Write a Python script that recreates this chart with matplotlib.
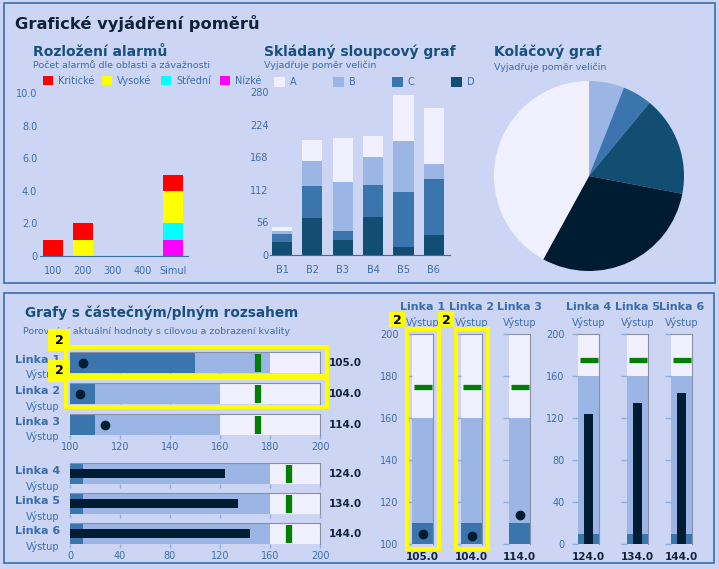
import numpy as np
import matplotlib
matplotlib.use("Agg")
import matplotlib.pyplot as plt
from matplotlib.patches import Rectangle

# ---- data ----
alarm_cats = ["100", "200", "300", "400", "Simul"]
alarm_levels = ["Kritické", "Vysoké", "Střední", "Nízké"]
alarm_krit = [1, 1, 0, 0, 1]
alarm_vys = [0, 1, 0, 0, 2]
alarm_stred = [0, 0, 0, 0, 1]
alarm_nizke = [0, 0, 0, 0, 1]
alarm_yticks = [0, 2, 4, 6, 8, 10]
alarm_ylabels = ["0", "2.0", "4.0", "6.0", "8.0", "10.0"]

stack_cats = ["B1", "B2", "B3", "B4", "B5", "B6"]
stack_names = ["A", "B", "C", "D"]
ser_a = [7, 36, 76, 36, 79, 97]
ser_b = [5, 43, 84, 47, 86, 26]
ser_c = [13, 55, 16, 56, 95, 96]
ser_d = [23, 63, 25, 65, 14, 34]
stack_yticks = [0, 56, 112, 168, 224, 280]

pie_vals = [6, 5, 17, 30, 42]

lines = ["Linka 1", "Linka 2", "Linka 3", "Linka 4", "Linka 5", "Linka 6"]
line_values = [105, 104, 114, 124, 134, 144]
line_targets = [175, 175, 175, 175, 175, 175]
scale_min = [100, 100, 100, 0, 0, 0]
scale_max = [200, 200, 200, 200, 200, 200]
h_ranges = [[150, 180], [110, 160], [110, 160], [10, 160], [10, 160], [10, 160]]
v_ranges = [[110, 160], [110, 160], [110, 160], [10, 160], [10, 160], [10, 160]]
highlighted = [True, True, False, False, False, False]
badge_text = "2"

# ---- style ----
W, H = 719, 569
BG = "#CDD5F5"
BORDER = "#3A6EA8"
NAVY = "#0F2238"
HEAD = "#17507C"
SOFT = "#3A6EA8"
C_A, C_B, C_C, C_D, C_E = "#F0F0FF", "#9BB6E4", "#3A75AE", "#124D72", "#001C33"
GREEN = "#008000"
GREY = "#8890A4"
TICK = "#8FAEE0"
YEL = "#FFFF00"
plt.rcParams["font.family"] = ["DejaVu Sans"]

fig = plt.figure(figsize=(W / 100, H / 100), dpi=100, facecolor=BG)


def add_ax(x0, y0, x1, y1):
    ax = fig.add_axes([x0 / W, 1 - y1 / H, (x1 - x0) / W, (y1 - y0) / H])
    ax.set_facecolor("none")
    return ax


def ftext(x, y, s, **kw):
    kw.setdefault("va", "center")
    return fig.text(x / W, 1 - y / H, s, **kw)


def frect(x0, y0, x1, y1, **kw):
    r = Rectangle((x0 / W, 1 - y1 / H), (x1 - x0) / W, (y1 - y0) / H,
                  transform=fig.transFigure, **kw)
    fig.add_artist(r)
    return r


# panels
frect(4, 3, 715, 283, fill=False, ec=BORDER, lw=1.2)
frect(4, 293, 714, 563, fill=False, ec=BORDER, lw=1.2)
ftext(15, 24, "Grafické vyjádření poměrů", fontsize=11.7, weight="bold", color=NAVY)

# ---- alarm chart ----
ftext(33, 52, "Rozložení alarmů", fontsize=10, weight="bold", color=HEAD)
ftext(33, 65, "Počet alarmů dle oblasti a závažnosti", fontsize=6.8, color=SOFT)
alarm_cols = ["#FF0000", "#FFFF00", "#00FFFF", "#FF00FF"]
for lx, name, col in zip([43, 102, 161, 220], alarm_levels, alarm_cols):
    frect(lx, 76, lx + 10, 85, fc=col, ec="none")
    ftext(lx + 15, 81, name, fontsize=7, color=SOFT)

ax = add_ax(40, 93, 188, 256)
x = np.arange(len(alarm_cats))
bottom = np.zeros(len(x))
for vals, col in zip([alarm_nizke, alarm_stred, alarm_vys, alarm_krit], alarm_cols[::-1]):
    ax.bar(x, vals, bottom=bottom, width=0.667, color=col)
    bottom += np.array(vals)
ax.set_xlim(-0.433, 4.5)
ax.set_ylim(0, 10)
ax.set_xticks(x)
ax.set_xticklabels(alarm_cats)
ax.set_yticks(alarm_yticks)
ax.set_yticklabels(alarm_ylabels)
for s in ["top", "right", "left"]:
    ax.spines[s].set_visible(False)
ax.spines["bottom"].set_color(BORDER)
ax.tick_params(length=0, labelcolor=SOFT, labelsize=7)
ax.tick_params(axis="x", pad=7)
ax.tick_params(axis="y", pad=2)

# ---- stacked chart ----
ftext(264, 52, "Skládaný sloupcový graf", fontsize=10, weight="bold", color=HEAD)
ftext(264, 65, "Vyjadřuje poměr veličin", fontsize=6.8, color=SOFT)
stack_cols = [C_A, C_B, C_C, C_D]
for lx, name, col in zip([274, 333, 392, 451], stack_names, stack_cols):
    frect(lx, 77, lx + 11, 87, fc=col, ec="none")
    ftext(lx + 16, 82, name, fontsize=7, color=SOFT)

ax = add_ax(270, 92, 450, 255)
x = np.arange(len(stack_cats))
bottom = np.zeros(len(x))
for vals, col in zip([ser_d, ser_c, ser_b, ser_a], [C_D, C_C, C_B, C_A]):
    ax.bar(x, vals, bottom=bottom, width=0.66, color=col)
    bottom += np.array(vals)
ax.set_xlim(-0.395, 5.53)
ax.set_ylim(0, 280)
ax.set_xticks(x)
ax.set_xticklabels(stack_cats)
ax.set_yticks(stack_yticks)
for s in ["top", "right", "left"]:
    ax.spines[s].set_visible(False)
ax.spines["bottom"].set_color(BORDER)
ax.tick_params(length=0, labelcolor=SOFT, labelsize=7)
ax.tick_params(axis="x", pad=7)
ax.tick_params(axis="y", pad=1)

# ---- pie ----
ftext(494, 52, "Koláčový graf", fontsize=10, weight="bold", color=HEAD)
ftext(494, 67, "Vyjadřuje poměr veličin", fontsize=6.8, color=SOFT)
ax = add_ax(494, 81, 684, 271)
ax.pie(pie_vals, colors=[C_B, C_C, C_D, C_E, C_A], startangle=90,
       counterclock=False, radius=1, wedgeprops=dict(linewidth=0))
ax.set_xlim(-1, 1)
ax.set_ylim(-1, 1)
ax.set_aspect("equal")

# ---- bullet charts ----
ftext(25, 313, "Grafy s částečným/plným rozsahem", fontsize=9.8, weight="bold", color=HEAD)
ftext(23, 331, "Porovnání aktuální hodnoty s cílovou a zobrazení kvality", fontsize=6.8, color=SOFT)

h_rows = [352, 383, 414, 463, 493, 523]
for i, name in enumerate(lines):
    lo, hi = scale_min[i], scale_max[i]
    y0 = h_rows[i]
    ax = add_ax(70, y0, 320, y0 + 21)
    bounds = [lo] + h_ranges[i] + [hi]
    for k, col in enumerate([C_C, C_B, C_A]):
        ax.barh(0, bounds[k + 1] - bounds[k], left=bounds[k], height=1, color=col)
    if i < 3:
        ax.plot(line_values[i], 0, "o", ms=6, color=C_E)
    else:
        ax.barh(0, line_values[i] - lo, left=lo, height=0.4, color=C_E)
    ax.plot(line_targets[i], 0, marker="|", ms=13, mew=4.5, color=GREEN)
    ax.set_xlim(lo, hi)
    ax.set_ylim(-0.5, 0.5)
    ax.set_yticks([])
    ax.set_xticks(np.arange(lo, hi + 1, 20 if i < 3 else 40))
    for s in ["left", "bottom"]:
        ax.spines[s].set_visible(False)
    for s in ["top", "right"]:
        ax.spines[s].set_color(GREY)
    ax.tick_params(axis="x", length=3, width=1, color=TICK, labelcolor=SOFT,
                   labelsize=7, pad=2, labelbottom=(i in (2, 5)))
    ftext(60, y0 + 8, name, fontsize=8, weight="bold", color=SOFT, ha="right")
    ftext(60, y0 + 23, "Výstup", fontsize=7, color=SOFT, ha="right")
    ftext(329, y0 + 11, f"{line_values[i]:.1f}", fontsize=7.5, weight="bold", color=NAVY)

v_cols = [412, 461, 509, 578, 627, 671]
for j, name in enumerate(lines):
    lo, hi = scale_min[j], scale_max[j]
    x0 = v_cols[j]
    ax = add_ax(x0, 334, x0 + 21, 544)
    bounds = [lo] + v_ranges[j] + [hi]
    for k, col in enumerate([C_C, C_B, C_A]):
        ax.bar(0, bounds[k + 1] - bounds[k], bottom=bounds[k], width=1, color=col)
    if j < 3:
        ax.plot(0, line_values[j], "o", ms=6, color=C_E)
    else:
        ax.bar(0, line_values[j] - lo, bottom=lo, width=0.4, color=C_E)
    ax.plot(0, line_targets[j], marker="_", ms=13.5, mew=3.8, color=GREEN)
    ax.set_ylim(lo, hi)
    ax.set_xlim(-0.5, 0.5)
    ax.set_xticks([])
    ax.set_yticks(np.arange(lo, hi + 1, 20 if j < 3 else 40))
    for s in ["left", "bottom"]:
        ax.spines[s].set_visible(False)
    for s in ["top", "right"]:
        ax.spines[s].set_color(GREY)
    ax.tick_params(axis="y", length=4.3, width=1, color=TICK, labelcolor=SOFT,
                   labelsize=7, pad=5.5, labelleft=(j in (0, 3)))
    ftext(x0 + 10.5, 307, name, fontsize=8, weight="bold", color=SOFT, ha="center")
    ftext(x0 + 10.5, 322, "Výstup", fontsize=7, color=SOFT, ha="center")
    ftext(x0 + 10.5, 557, f"{line_values[j]:.1f}", fontsize=7.5, weight="bold",
          color=NAVY, ha="center")

# highlight boxes and badges
for i, flag in enumerate(highlighted):
    if not flag:
        continue
    y0 = h_rows[i]
    frect(66, y0 - 5, 327, y0 + 24, fill=False, ec=YEL, lw=2.9, zorder=5)
    frect(48, y0 - 23, 70, y0 - 1, fc=YEL, ec="none", zorder=6)
    ftext(59, y0 - 12, badge_text, fontsize=9, weight="bold", color="black",
          ha="center", zorder=7)
    x0 = v_cols[i]
    frect(x0 - 5, 329, x0 + 27, 549, fill=False, ec=YEL, lw=2.9, zorder=5)
    frect(x0 - 23, 312, x0 - 7, 327, fc=YEL, ec="none", zorder=6)
    ftext(x0 - 15, 320, badge_text, fontsize=9, weight="bold", color="black",
          ha="center", zorder=7)

fig.savefig("out.png", dpi=100, facecolor=BG)
